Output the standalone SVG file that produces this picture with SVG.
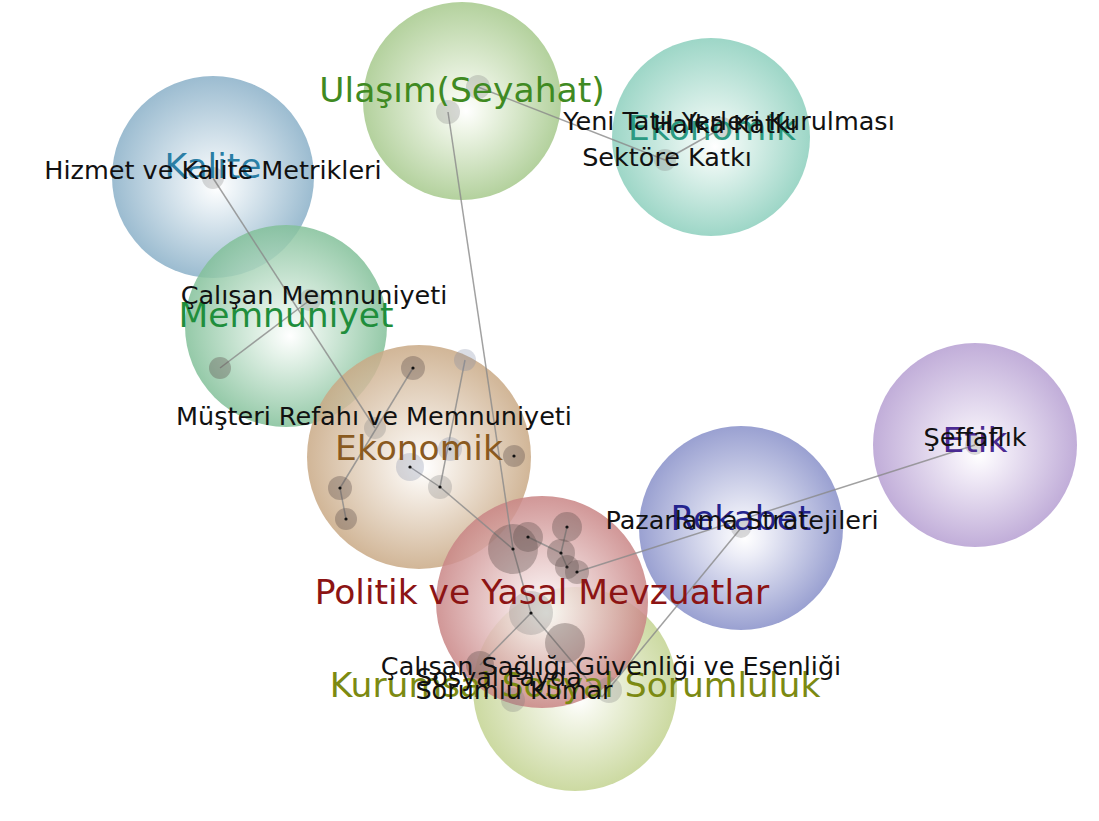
<svg xmlns="http://www.w3.org/2000/svg" width="1099" height="821" viewBox="0 0 1099 821">
<defs>
<radialGradient id="gUla" cx="50%" cy="50%" r="50%" fx="52%" fy="55%"><stop offset="0" stop-color="#ffffff"/><stop offset="0.2" stop-color="#eef5e6"/><stop offset="1" stop-color="#a6c98c"/></radialGradient>
<radialGradient id="gTeal" cx="50%" cy="50%" r="50%" fx="52%" fy="55%"><stop offset="0" stop-color="#ffffff"/><stop offset="0.2" stop-color="#e6f5f0"/><stop offset="1" stop-color="#8ccfbd"/></radialGradient>
<radialGradient id="gKal" cx="50%" cy="50%" r="50%" fx="52%" fy="55%"><stop offset="0" stop-color="#ffffff"/><stop offset="0.2" stop-color="#e8f0f5"/><stop offset="1" stop-color="#8ab0c8"/></radialGradient>
<radialGradient id="gMem" cx="50%" cy="50%" r="50%" fx="52%" fy="55%"><stop offset="0" stop-color="#ffffff"/><stop offset="0.2" stop-color="#e6f3ea"/><stop offset="1" stop-color="#82c099"/></radialGradient>
<radialGradient id="gEko" cx="50%" cy="50%" r="50%" fx="52%" fy="55%"><stop offset="0" stop-color="#ffffff"/><stop offset="0.2" stop-color="#f5eee6"/><stop offset="1" stop-color="#c9a985"/></radialGradient>
<radialGradient id="gPol" cx="50%" cy="50%" r="50%" fx="52%" fy="55%"><stop offset="0" stop-color="#ffffff"/><stop offset="0.2" stop-color="#f5e6e6"/><stop offset="1" stop-color="#c98585"/></radialGradient>
<radialGradient id="gRek" cx="50%" cy="50%" r="50%" fx="52%" fy="55%"><stop offset="0" stop-color="#ffffff"/><stop offset="0.2" stop-color="#eaebf6"/><stop offset="1" stop-color="#8890c9"/></radialGradient>
<radialGradient id="gEtik" cx="50%" cy="50%" r="50%" fx="52%" fy="55%"><stop offset="0" stop-color="#ffffff"/><stop offset="0.2" stop-color="#f1ebf7"/><stop offset="1" stop-color="#b69fd2"/></radialGradient>
<radialGradient id="gKur" cx="50%" cy="50%" r="50%" fx="52%" fy="55%"><stop offset="0" stop-color="#ffffff"/><stop offset="0.2" stop-color="#f2f5e6"/><stop offset="1" stop-color="#c3d391"/></radialGradient>
</defs>
<style>
.bub{opacity:0.85}
.cat{font-family:"DejaVu Sans","Liberation Sans",sans-serif;font-size:34.5px;text-anchor:middle}
.lbl{font-family:"DejaVu Sans","Liberation Sans",sans-serif;font-size:25.5px;text-anchor:middle;fill:#111}
.edge{stroke:#8a8a8a;stroke-width:1.5;fill:none;opacity:0.8}
.sn{fill:#7a7a7a;opacity:0.28}
.snd{fill:#5a4a48;opacity:0.35}
.dot{fill:#111}
</style>
<rect width="1099" height="821" fill="#ffffff"/>
<g id="bubbles">
<circle id="b-ulasim" class="bub" cx="462" cy="101" r="99" fill="url(#gUla)"/>
<circle id="b-ekonomik2" class="bub" cx="711" cy="137" r="99" fill="url(#gTeal)"/>
<circle id="b-kalite" class="bub" cx="213" cy="177" r="101" fill="url(#gKal)"/>
<circle id="b-memnuniyet" class="bub" cx="286" cy="326" r="101" fill="url(#gMem)"/>
<circle id="b-ekonomik" class="bub" cx="419" cy="457" r="112" fill="url(#gEko)"/>
<circle id="b-rekabet" class="bub" cx="741" cy="528" r="102" fill="url(#gRek)"/>
<circle id="b-etik" class="bub" cx="975" cy="445" r="102" fill="url(#gEtik)"/>
<circle id="b-kurumsal" class="bub" cx="575" cy="689" r="102" fill="url(#gKur)"/>
<circle id="b-politik" class="bub" cx="542" cy="602" r="106" fill="url(#gPol)"/>
</g>
<g id="connectors">
<line class="edge" x1="213" y1="178" x2="375" y2="428"/>
<line class="edge" x1="220" y1="368" x2="310" y2="300"/>
<line class="edge" x1="448" y1="112" x2="513" y2="549"/>
<line class="edge" x1="478" y1="87" x2="665" y2="160"/>
<line class="edge" x1="665" y1="160" x2="722" y2="128"/>
<line class="edge" x1="413" y1="368" x2="340" y2="488"/>
<line class="edge" x1="340" y1="488" x2="346" y2="519"/>
<line class="edge" x1="465" y1="360" x2="440" y2="487"/>
<line class="edge" x1="410" y1="467" x2="440" y2="487"/>
<line class="edge" x1="440" y1="487" x2="513" y2="549"/>
<line class="edge" x1="513" y1="549" x2="531" y2="613"/>
<line class="edge" x1="528" y1="537" x2="561" y2="553"/>
<line class="edge" x1="567" y1="527" x2="561" y2="553"/>
<line class="edge" x1="561" y1="553" x2="567" y2="567"/>
<line class="edge" x1="577" y1="572" x2="975" y2="445"/>
<line class="edge" x1="531" y1="613" x2="480" y2="665"/>
<line class="edge" x1="531" y1="613" x2="602" y2="697"/>
<line class="edge" x1="741" y1="528" x2="602" y2="697"/>
</g>
<g id="subnodes">
<g id="n-hizmet"><circle class="sn" cx="213" cy="178" r="11"/></g>
<g id="n-ulasim1"><circle class="sn" cx="448" cy="112" r="12"/></g>
<g id="n-ulasim2"><circle class="sn" cx="478" cy="87" r="12"/></g>
<g id="n-sektore"><circle class="sn" cx="665" cy="160" r="11"/></g>
<g id="n-halka"><circle class="sn" cx="722" cy="128" r="11"/></g>
<g id="n-calisan"><circle class="sn" cx="310" cy="300" r="11"/></g>
<g id="n-mem2"><circle class="snd" cx="220" cy="368" r="11"/></g>
<g id="n-musteri"><circle class="sn" cx="375" cy="428" r="11"/></g>
<g id="n-e1"><circle class="snd" cx="413" cy="368" r="12"/><circle class="dot" cx="413" cy="368" r="1.6"/></g>
<g id="n-e2"><circle class="sn" cx="465" cy="360" r="11" style="fill:#7a86a0"/></g>
<g id="n-e3"><circle class="snd" cx="340" cy="488" r="12"/><circle class="dot" cx="340" cy="488" r="1.6"/></g>
<g id="n-e4"><circle class="snd" cx="346" cy="519" r="11"/><circle class="dot" cx="346" cy="519" r="1.6"/></g>
<g id="n-e5"><circle class="sn" cx="410" cy="467" r="14" style="fill:#7a86a0"/><circle class="dot" cx="410" cy="467" r="1.6"/></g>
<g id="n-e6"><circle class="sn" cx="440" cy="487" r="12"/><circle class="dot" cx="440" cy="487" r="1.6"/></g>
<g id="n-e7"><circle class="sn" cx="450" cy="449" r="12" style="fill:#7a86a0"/><circle class="dot" cx="450" cy="449" r="1.6"/></g>
<g id="n-e8"><circle class="snd" cx="514" cy="456" r="11"/><circle class="dot" cx="514" cy="456" r="1.6"/></g>
<g id="n-p1"><circle class="snd" cx="513" cy="549" r="25"/><circle class="dot" cx="513" cy="549" r="1.6"/></g>
<g id="n-p2"><circle class="snd" cx="528" cy="537" r="15"/><circle class="dot" cx="528" cy="537" r="1.6"/></g>
<g id="n-p3"><circle class="snd" cx="567" cy="527" r="15"/><circle class="dot" cx="567" cy="527" r="1.6"/></g>
<g id="n-p4"><circle class="snd" cx="561" cy="553" r="14"/><circle class="dot" cx="561" cy="553" r="1.6"/></g>
<g id="n-p5"><circle class="snd" cx="567" cy="567" r="12"/><circle class="dot" cx="567" cy="567" r="1.6"/></g>
<g id="n-p6"><circle class="snd" cx="577" cy="572" r="12"/><circle class="dot" cx="577" cy="572" r="1.6"/></g>
<g id="n-p7"><circle class="sn" cx="531" cy="613" r="22"/><circle class="dot" cx="531" cy="613" r="1.6"/></g>
<g id="n-k1"><circle class="snd" cx="565" cy="643" r="20"/></g>
<g id="n-k2"><circle class="snd" cx="480" cy="665" r="14"/></g>
<g id="n-k3"><circle class="sn" cx="513" cy="700" r="12"/></g>
<g id="n-k4"><circle class="sn" cx="609" cy="690" r="13"/></g>
<g id="n-pazarlama"><circle class="sn" cx="741" cy="528" r="10"/></g>
<g id="n-seffaflik"><circle class="sn" cx="975" cy="445" r="10"/></g>
</g>
<g id="category-labels">
<text class="cat" x="462" y="102" fill="#3f8a22">Ulaşım(Seyahat)</text>
<text class="cat" x="712" y="140" fill="#2a9a82">Ekonomik</text>
<text class="cat" x="213" y="178" fill="#2a7ea5">Kalite</text>
<text class="cat" x="286" y="327" fill="#1f8e3c">Memnuniyet</text>
<text class="cat" x="419" y="460" fill="#8a5a1f">Ekonomik</text>
<text class="cat" x="542" y="604" fill="#8c1414">Politik ve Yasal Mevzuatlar</text>
<text class="cat" x="741" y="530" fill="#24248e">Rekabet</text>
<text class="cat" x="975" y="452" fill="#4a2a92">Etik</text>
<text class="cat" x="575" y="697" fill="#7c8a12">Kurumsal Sosyal Sorumluluk</text>
</g>
<g id="node-labels">
<text class="lbl" x="213" y="179">Hizmet ve Kalite Metrikleri</text>
<text class="lbl" x="314" y="304">Çalışan Memnuniyeti</text>
<text class="lbl" x="374" y="425">Müşteri Refahı ve Memnuniyeti</text>
<text class="lbl" x="729" y="130">Yeni Tatil Yerleri Kurulması</text>
<text class="lbl" x="725" y="133">Halka Katkı</text>
<text class="lbl" x="667" y="166">Sektöre Katkı</text>
<text class="lbl" x="742" y="529">Pazarlama Stratejileri</text>
<text class="lbl" x="975" y="446">Şeffaflık</text>
<text class="lbl" x="611" y="675">Çalışan Sağlığı Güvenliği ve Esenliği</text>
<text class="lbl" x="499" y="686">Sosyal Fayda</text>
<text class="lbl" x="514" y="699">Sorumlu Kumar</text>
</g>
</svg>
